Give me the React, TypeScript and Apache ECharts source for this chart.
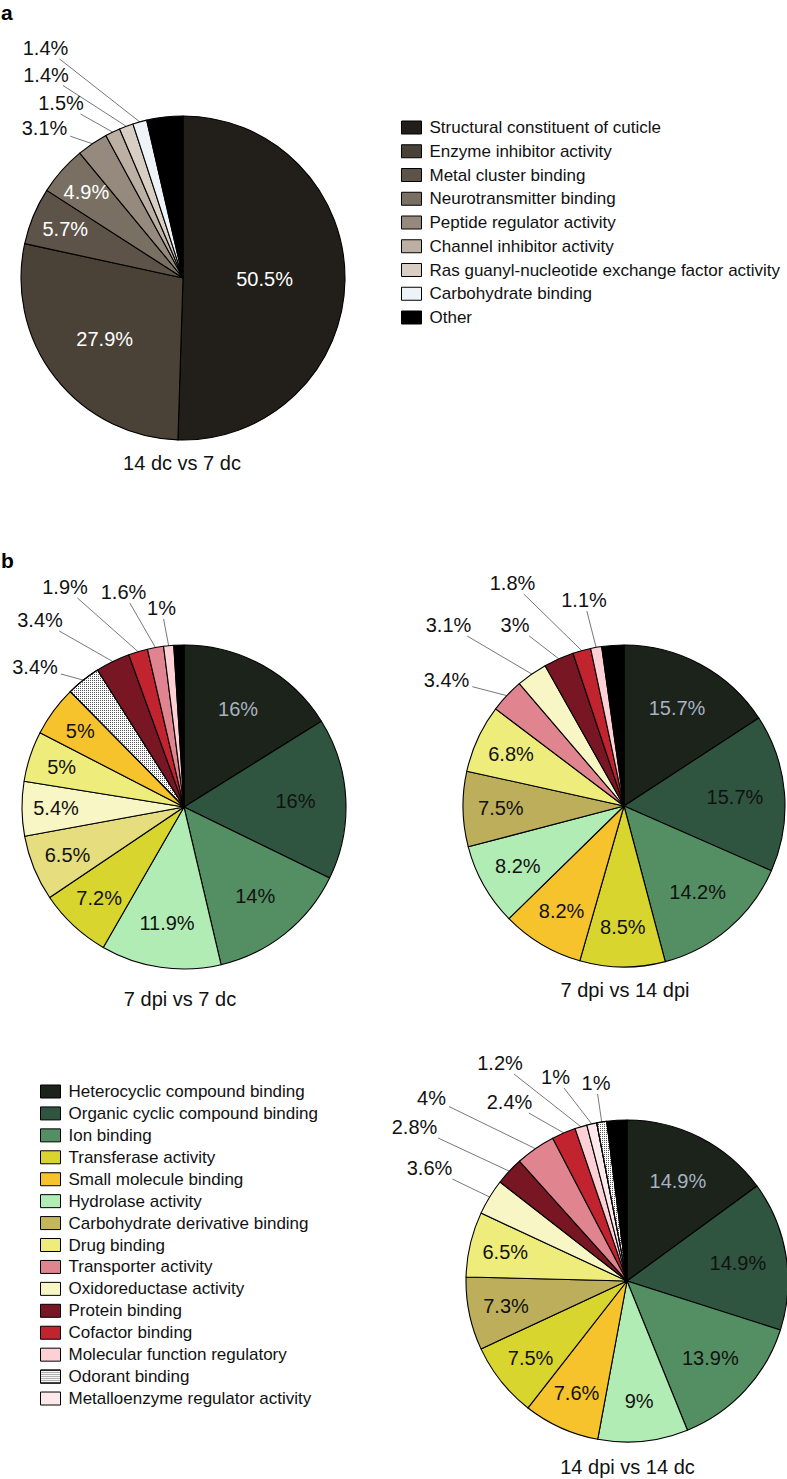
import React, { useEffect, useRef } from 'react';
import * as echarts from 'echarts';

const FONT = 'Arial, "Liberation Sans", Helvetica, sans-serif';

// ---------- data ----------
const A_CATEGORIES = [
  'Structural constituent of cuticle',
  'Enzyme inhibitor activity',
  'Metal cluster binding',
  'Neurotransmitter binding',
  'Peptide regulator activity',
  'Channel inhibitor activity',
  'Ras guanyl-nucleotide exchange factor activity',
  'Carbohydrate binding',
  'Other',
];
const A_VALUES = [50.5, 27.9, 5.7, 4.9, 3.1, 1.5, 1.4, 1.4, 3.6];

const B_LEGEND = [
  'Heterocyclic compound binding',
  'Organic cyclic compound binding',
  'Ion binding',
  'Transferase activity',
  'Small molecule binding',
  'Hydrolase activity',
  'Carbohydrate derivative binding',
  'Drug binding',
  'Transporter activity',
  'Oxidoreductase activity',
  'Protein binding',
  'Cofactor binding',
  'Molecular function regulatory',
  'Odorant binding',
  'Metalloenzyme regulator activity',
];

const B1_CATEGORIES = [
  'Heterocyclic compound binding',
  'Organic cyclic compound binding',
  'Ion binding',
  'Hydrolase activity',
  'Transferase activity',
  'Carbohydrate derivative binding',
  'Oxidoreductase activity',
  'Drug binding',
  'Small molecule binding',
  'Odorant binding',
  'Protein binding',
  'Cofactor binding',
  'Transporter activity',
  'Molecular function regulatory',
  'Other',
];
const B1_VALUES = [16, 16, 14, 11.9, 7.2, 6.5, 5.4, 5, 5, 3.4, 3.4, 1.9, 1.6, 1, 1.0];

const B2_CATEGORIES = [
  'Heterocyclic compound binding',
  'Organic cyclic compound binding',
  'Ion binding',
  'Transferase activity',
  'Small molecule binding',
  'Hydrolase activity',
  'Carbohydrate derivative binding',
  'Drug binding',
  'Transporter activity',
  'Oxidoreductase activity',
  'Protein binding',
  'Cofactor binding',
  'Molecular function regulatory',
  'Other',
];
const B2_VALUES = [15.7, 15.7, 14.2, 8.5, 8.2, 8.2, 7.5, 6.8, 3.4, 3.1, 3, 1.8, 1.1, 2.2];

const B3_CATEGORIES = [
  'Heterocyclic compound binding',
  'Organic cyclic compound binding',
  'Ion binding',
  'Hydrolase activity',
  'Small molecule binding',
  'Transferase activity',
  'Carbohydrate derivative binding',
  'Drug binding',
  'Oxidoreductase activity',
  'Protein binding',
  'Transporter activity',
  'Cofactor binding',
  'Molecular function regulatory',
  'Metalloenzyme regulator activity',
  'Odorant binding',
  'Other',
];
const B3_VALUES = [14.9, 14.9, 13.9, 9, 7.6, 7.5, 7.3, 6.5, 3.6, 2.8, 4, 2.4, 1.2, 1, 1, 2.0];

const PANEL_TITLES = ['14 dc vs 7 dc', '7 dpi vs 7 dc', '7 dpi vs 14 dpi', '14 dpi vs 14 dc'];

// ---------- styles ----------
const COLORS: Record<string, string> = {
  'Structural constituent of cuticle': '#221e19',
  'Enzyme inhibitor activity': '#4a4137',
  'Metal cluster binding': '#5d5349',
  'Neurotransmitter binding': '#7a6f63',
  'Peptide regulator activity': '#968a7e',
  'Channel inhibitor activity': '#bcb0a4',
  'Ras guanyl-nucleotide exchange factor activity': '#d8cec4',
  'Carbohydrate binding': '#eef3f8',
  Other: '#000000',
  'Heterocyclic compound binding': '#1b231a',
  'Organic cyclic compound binding': '#2f5540',
  'Ion binding': '#548e63',
  'Transferase activity': '#d9d52f',
  'Small molecule binding': '#f6c32c',
  'Hydrolase activity': '#b1ecb4',
  'Carbohydrate derivative binding': '#bcae5a',
  'Drug binding': '#eeec7a',
  'Transporter activity': '#e0848f',
  'Oxidoreductase activity': '#f8f6c4',
  'Protein binding': '#791623',
  'Cofactor binding': '#c1242f',
  'Molecular function regulatory': '#fdd0d6',
  'Odorant binding': '#ffffff',
  'Metalloenzyme regulator activity': '#fde9ec',
};

const DOT_DECAL = {
  symbol: 'rect',
  symbolSize: 1,
  dashArrayX: [1, 1],
  dashArrayY: [1, 1],
  color: '#555555',
  backgroundColor: '#ffffff',
};

// layout for each pie (positions / label placement, not data)
const PIES = [
  {
    categories: A_CATEGORIES, values: A_VALUES, center: [183, 278], r: 162,
    outside: [4, 5, 6, 7],
    outsideOffsets: [[-138.5, -150.5], [-122, -175], [-137, -203.5], [-137.5, -230]],
    insideColor: () => '#ffffff',
    colorOverride: {} as Record<string, string>,
    title: [182, 462.5],
  },
  {
    categories: B1_CATEGORIES, values: B1_VALUES, center: [184, 807], r: 162,
    outside: [9, 10, 11, 12, 13],
    outsideOffsets: [[-149, -140], [-144, -187], [-119, -220], [-60.5, -215], [-22.5, -199]],
    insideColor: (n: string) => (n === 'Heterocyclic compound binding' ? '#a9b1c3' : '#111111'),
    colorOverride: { 'Carbohydrate derivative binding': '#e5dd7e' } as Record<string, string>,
    title: [180, 999],
  },
  {
    categories: B2_CATEGORIES, values: B2_VALUES, center: [624, 806], r: 161,
    outside: [8, 9, 10, 11, 12],
    outsideOffsets: [[-177.5, -126], [-175.5, -181], [-109, -181], [-111.5, -223], [-40, -206]],
    insideColor: (n: string) => (n === 'Heterocyclic compound binding' ? '#a9b1c3' : '#111111'),
    colorOverride: {} as Record<string, string>,
    title: [625, 990],
  },
  {
    categories: B3_CATEGORIES, values: B3_VALUES, center: [627, 1281], r: 161,
    outside: [8, 9, 10, 11, 12, 13, 14],
    outsideOffsets: [[-197.5, -113], [-212.5, -154], [-195.5, -183], [-117.5, -179], [-127, -218], [-71.5, -204], [-31, -198]],
    insideColor: (n: string) => (n === 'Heterocyclic compound binding' ? '#a9b1c3' : '#111111'),
    colorOverride: {} as Record<string, string>,
    title: [627.5, 1467],
  },
];

function midAngles(values: number[]) {
  const total = values.reduce((s, v) => s + v, 0);
  let cum = 0;
  return values.map((v) => {
    const m = ((cum + v / 2) / total) * Math.PI * 2;
    cum += v;
    return m;
  });
}

function buildSeries(cfg: any, si: number) {
  const total = cfg.values.reduce((s: number, v: number) => s + v, 0);
  const mids = midAngles(cfg.values);
  const data = cfg.categories.map((name: string, i: number) => {
    const isOther = name === 'Other';
    const outside = cfg.outside.includes(i);
    const itemStyle: any = { color: cfg.colorOverride[name] || COLORS[name] };
    if (name === 'Odorant binding') itemStyle.decal = DOT_DECAL;
    return {
      name,
      value: cfg.values[i],
      itemStyle,
      label: { show: !isOther, color: outside ? '#111111' : cfg.insideColor(name) },
      labelLine: { show: outside && !isOther },
    };
  });
  const [cx, cy] = cfg.center;
  const r = cfg.r;
  return {
    type: 'pie',
    name: PANEL_TITLES[si],
    center: [cx, cy],
    radius: r,
    startAngle: 90,
    clockwise: true,
    avoidLabelOverlap: false,
    silent: true,
    itemStyle: { borderColor: '#000000', borderWidth: 1.1 },
    label: {
      show: true,
      position: 'outside',
      overflow: 'none',
      fontSize: 20,
      fontFamily: FONT,
      formatter: (p: any) => `${p.value}%`,
    },
    labelLine: { show: false, lineStyle: { color: '#555555', width: 0.8 } },
    labelLayout: (params: any) => {
      const i = params.dataIndex;
      const th = mids[i];
      const sx = Math.sin(th);
      const sy = -Math.cos(th);
      const oi = cfg.outside.indexOf(i);
      if (oi < 0) {
        const frac = cfg.values[i] / total;
        const k = 0.93 - 0.6 * Math.sqrt(frac);
        return { x: cx + k * r * sx, y: cy + k * r * sy, align: 'center', verticalAlign: 'middle' };
      }
      const [ox, oy] = cfg.outsideOffsets[oi];
      const lx = cx + ox;
      const ly = cy + oy;
      const ex = cx + r * sx;
      const ey = cy + r * sy;
      const hw = (params.labelRect ? params.labelRect.width : 40) / 2 + 3;
      const hh = (params.labelRect ? params.labelRect.height : 20) / 2 + 1;
      const dx = ex - lx;
      const dy = ey - ly;
      const t = Math.min(hw / Math.max(Math.abs(dx), 1e-6), hh / Math.max(Math.abs(dy), 1e-6));
      return {
        x: lx,
        y: ly,
        align: 'center',
        verticalAlign: 'middle',
        labelLinePoints: [[ex, ey], [lx + t * dx, ly + t * dy]],
      };
    },
    data,
  };
}

function buildOption() {
  const series = PIES.map((cfg, i) => buildSeries(cfg, i));
  const legendCommon = {
    orient: 'vertical',
    padding: 0,
    itemWidth: 20,
    itemHeight: 13,
    icon: 'rect',
    selectedMode: false,
    itemStyle: { borderColor: '#000000', borderWidth: 1 },
    textStyle: { fontSize: 17, lineHeight: 17, fontFamily: FONT, color: '#111111', padding: [0, 0, 0, 3] },
  };
  const graphic: any[] = [
    { type: 'text', x: 1, y: 12, style: { text: 'a', font: `bold 21px ${FONT}`, fill: '#000', align: 'left', verticalAlign: 'middle' } },
    { type: 'text', x: 1, y: 560, style: { text: 'b', font: `bold 21px ${FONT}`, fill: '#000', align: 'left', verticalAlign: 'middle' } },
  ];
  PIES.forEach((cfg, i) => {
    graphic.push({
      type: 'text',
      x: cfg.title[0],
      y: cfg.title[1],
      style: { text: PANEL_TITLES[i], font: `20px ${FONT}`, fill: '#111', align: 'center', verticalAlign: 'middle' },
    });
  });
  return {
    animation: false,
    backgroundColor: '#ffffff',
    legend: [
      { ...legendCommon, left: 401, top: 119, itemGap: 6.75, data: A_CATEGORIES },
      {
        ...legendCommon,
        left: 40,
        top: 1083,
        itemGap: 4.93,
        data: B_LEGEND.map((n) =>
          n === 'Carbohydrate derivative binding' ? { name: n, itemStyle: { color: '#c4b65d' } } : n
        ),
      },
    ],
    graphic,
    series,
  };
}

export default function App() {
  const ref = useRef<HTMLDivElement>(null);
  useEffect(() => {
    if (!ref.current) return;
    const chart = echarts.init(ref.current, undefined, { renderer: 'svg' });
    chart.setOption(buildOption() as any);
    return () => chart.dispose();
  }, []);
  return (
    <div
      ref={ref}
      style={{ position: 'absolute', left: 0, top: 0, width: 787, height: 1479, background: '#fff' }}
    />
  );
}
